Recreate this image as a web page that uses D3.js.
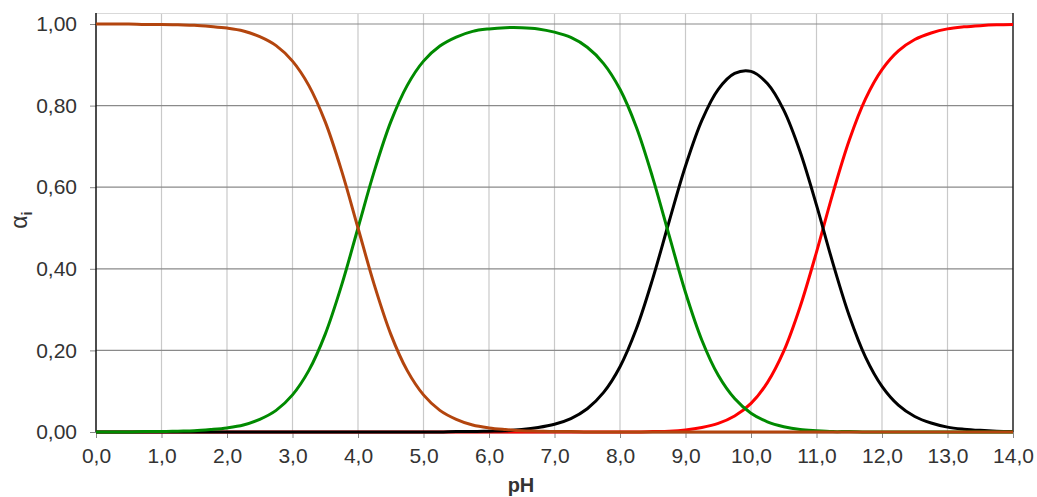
<!DOCTYPE html>
<html>
<head>
<meta charset="utf-8">
<script src="https://cdn.jsdelivr.net/npm/d3@7"></script>
<style>
  body { margin: 0; background: #fff; }
  svg { display: block; font-family: "Liberation Sans", Arial, sans-serif; }
  .tick text { fill: #333; font-size: 21px; }
</style>
</head>
<body>
<svg width="1037" height="497"></svg>
<script>
// pH values (x) every 0.25 units
const pH = [0, 0.25, 0.5, 0.75, 1, 1.25, 1.5, 1.75, 2, 2.25, 2.5, 2.75, 3, 3.25, 3.5, 3.75,
  4, 4.25, 4.5, 4.75, 5, 5.25, 5.5, 5.75, 6, 6.25, 6.5, 6.75, 7, 7.25, 7.5, 7.75,
  8, 8.25, 8.5, 8.75, 9, 9.25, 9.5, 9.75, 10, 10.25, 10.5, 10.75, 11, 11.25, 11.5, 11.75,
  12, 12.25, 12.5, 12.75, 13, 13.25, 13.5, 13.75, 14]

// brown curve
const alphaBrown = [1.000, 1.000, 1.000, 0.999, 0.999, 0.998, 0.997, 0.994, 0.990, 0.983, 0.969, 0.947, 0.909, 0.849, 0.760, 0.640,
  0.500, 0.360, 0.240, 0.151, 0.091, 0.053, 0.031, 0.017, 0.010, 0.006, 0.003, 0.002, 0.001, 0.001, 0.000, 0.000,
  0.000, 0.000, 0.000, 0.000, 0.000, 0.000, 0.000, 0.000, 0.000, 0.000, 0.000, 0.000, 0.000, 0.000, 0.000, 0.000,
  0.000, 0.000, 0.000, 0.000, 0.000, 0.000, 0.000, 0.000, 0.000]

// green curve
const alphaGreen = [0.000, 0.000, 0.000, 0.001, 0.001, 0.002, 0.003, 0.006, 0.010, 0.017, 0.031, 0.053, 0.091, 0.151, 0.240, 0.360,
  0.500, 0.640, 0.760, 0.849, 0.909, 0.946, 0.968, 0.982, 0.988, 0.991, 0.991, 0.988, 0.980, 0.967, 0.943, 0.903,
  0.840, 0.747, 0.623, 0.482, 0.342, 0.225, 0.139, 0.082, 0.046, 0.025, 0.013, 0.006, 0.003, 0.001, 0.001, 0.000,
  0.000, 0.000, 0.000, 0.000, 0.000, 0.000, 0.000, 0.000, 0.000]

// black curve
const alphaBlack = [0.000, 0.000, 0.000, 0.000, 0.000, 0.000, 0.000, 0.000, 0.000, 0.000, 0.000, 0.000, 0.000, 0.000, 0.000, 0.000,
  0.000, 0.000, 0.000, 0.000, 0.000, 0.000, 0.001, 0.001, 0.002, 0.003, 0.006, 0.011, 0.019, 0.033, 0.057, 0.097,
  0.160, 0.253, 0.376, 0.516, 0.652, 0.764, 0.840, 0.879, 0.884, 0.854, 0.789, 0.687, 0.556, 0.414, 0.285, 0.183,
  0.112, 0.066, 0.038, 0.022, 0.012, 0.007, 0.004, 0.002, 0.001]

// red curve
const alphaRed = [0.000, 0.000, 0.000, 0.000, 0.000, 0.000, 0.000, 0.000, 0.000, 0.000, 0.000, 0.000, 0.000, 0.000, 0.000, 0.000,
  0.000, 0.000, 0.000, 0.000, 0.000, 0.000, 0.000, 0.000, 0.000, 0.000, 0.000, 0.000, 0.000, 0.000, 0.000, 0.000,
  0.000, 0.000, 0.001, 0.002, 0.005, 0.011, 0.021, 0.039, 0.070, 0.121, 0.198, 0.307, 0.441, 0.585, 0.715, 0.817,
  0.888, 0.934, 0.962, 0.978, 0.988, 0.993, 0.996, 0.998, 0.999]

const xTicks = [0, 1, 2, 3, 4, 5, 6, 7, 8, 9, 10, 11, 12, 13, 14]
const yTicks = [0, 0.2, 0.4, 0.6, 0.8, 1.0]

const svg = d3.select('svg')

const margin = {top: 24, right: 24, bottom: 65, left: 96}
const width = 1037 - margin.left - margin.right
const height = 497 - margin.top - margin.bottom

const x = d3.scaleLinear().domain([0, 14]).range([margin.left, margin.left + width])
const y = d3.scaleLinear().domain([0, 1]).range([margin.top + height, margin.top])

const comma = f => v => d3.format(f)(v).replace('.', ',')

// plot top edge (a bit above 1,00)
const plotTop = 13

// vertical gridlines (light)
svg.append('g')
  .selectAll('line')
  .data(xTicks.slice(1, -1))
  .join('line')
  .attr('x1', d => x(d)).attr('x2', d => x(d))
  .attr('y1', plotTop).attr('y2', y(0))
  .attr('stroke', '#c9c9c9')
  .attr('stroke-width', 1.2)

// top border
svg.append('line')
  .attr('x1', x(0)).attr('x2', x(14))
  .attr('y1', plotTop + 0.5).attr('y2', plotTop + 0.5)
  .attr('stroke', '#d9d9d9')

// horizontal gridlines (darker)
svg.append('g')
  .selectAll('line')
  .data(yTicks.slice(1))
  .join('line')
  .attr('x1', x(0)).attr('x2', x(14))
  .attr('y1', d => y(d)).attr('y2', d => y(d))
  .attr('stroke', '#8a8a8a')
  .attr('stroke-width', 1.2)

// right border
svg.append('line')
  .attr('x1', x(14)).attr('x2', x(14))
  .attr('y1', plotTop).attr('y2', y(0))
  .attr('stroke', '#222')
  .attr('stroke-width', 1.5)

// axes
const xAxis = svg.append('g')
  .attr('transform', `translate(0, ${y(0)})`)
  .call(d3.axisBottom(x).tickValues(xTicks).tickFormat(comma('.1f')).tickSizeInner(6).tickSizeOuter(0).tickPadding(10))
xAxis.select('.domain').attr('stroke', '#222').attr('stroke-width', 1.5)
xAxis.selectAll('.tick line').attr('stroke', '#888')

const yAxis = svg.append('g')
  .attr('transform', `translate(${x(0)}, 0)`)
  .call(d3.axisLeft(y).tickValues(yTicks).tickFormat(comma('.2f')).tickSizeInner(6).tickSizeOuter(0).tickPadding(13))
yAxis.select('.domain').remove()
yAxis.selectAll('.tick line').attr('stroke', '#888')
yAxis.append('line')
  .attr('x1', 0).attr('x2', 0)
  .attr('y1', plotTop).attr('y2', y(0))
  .attr('stroke', '#111')
  .attr('stroke-width', 1.5)

// axis titles
svg.append('text')
  .attr('x', 521)
  .attr('y', 492)
  .attr('text-anchor', 'middle')
  .attr('font-weight', 'bold')
  .attr('font-size', 20)
  .attr('fill', '#333')
  .text('pH')

const yTitle = svg.append('text')
  .attr('transform', 'translate(27, 220) rotate(-90)')
  .attr('text-anchor', 'middle')
  .attr('font-size', 23)
  .attr('fill', '#333')
yTitle.append('tspan').text('α')
yTitle.append('tspan')
  .attr('dy', 5)
  .attr('font-size', 15)
  .attr('font-weight', 'bold')
  .text('i')

// the curves
const series = [
  {values: alphaRed, color: '#ff0000'},
  {values: alphaBlack, color: '#000000'},
  {values: alphaGreen, color: '#008a00'},
  {values: alphaBrown, color: '#b3450e'}
]

const line = d3.line()
  .x((d, i) => x(pH[i]))
  .y(d => y(d))
  .curve(d3.curveCatmullRom.alpha(0.5))

svg.append('g')
  .selectAll('path')
  .data(series)
  .join('path')
  .attr('d', d => line(d.values))
  .attr('fill', 'none')
  .attr('stroke', d => d.color)
  .attr('stroke-width', 3)
  .attr('stroke-linejoin', 'round')
</script>
</body>
</html>
